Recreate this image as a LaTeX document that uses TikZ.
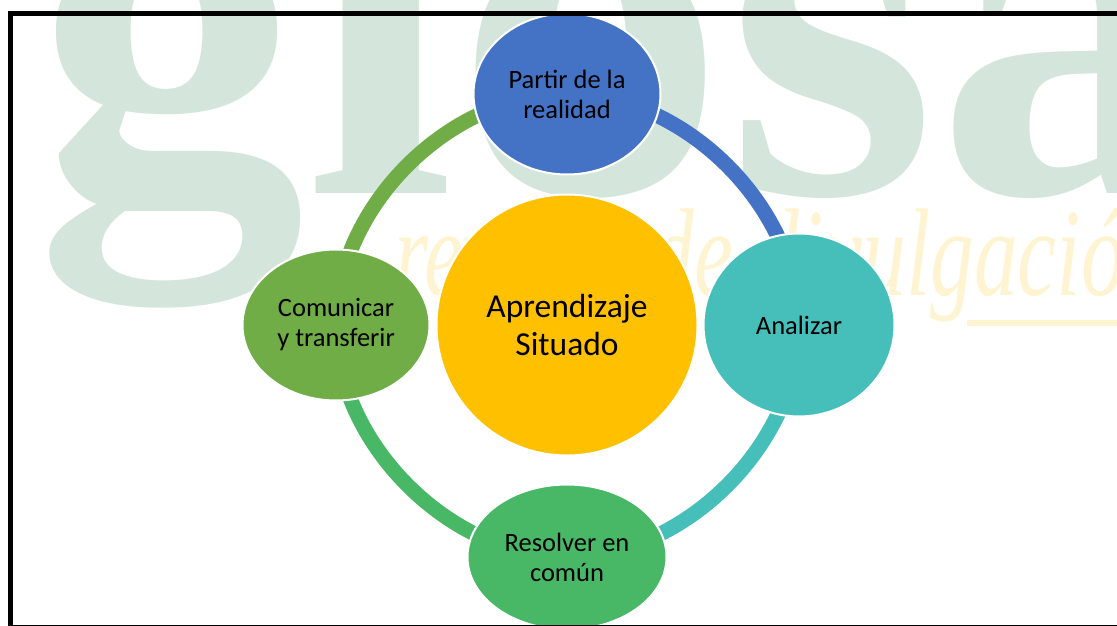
\documentclass[tikz,border=0pt]{standalone}
\usepackage{fontspec}
\setmainfont{Carlito}
\newfontfamily\markfont{Liberation Serif}
\usetikzlibrary{shapes.geometric,positioning,backgrounds}

\definecolor{cBlue}{HTML}{4472C4}
\definecolor{cTeal}{HTML}{46BFBA}
\definecolor{cGreen}{HTML}{48B766}
\definecolor{cOlive}{HTML}{70AD47}
\definecolor{cGold}{HTML}{FFC000}
\definecolor{markGreen}{HTML}{D4E6DC}
\definecolor{markYellow}{HTML}{FFF4D2}

\begin{document}
\begin{tikzpicture}
	[
	  x=1pt, y=-1pt,
	  stage/.style={ellipse, draw=white, line width=2pt, inner sep=0pt, outer sep=0pt,
	    align=center, font=\fontsize{26.5}{30}\selectfont},
	  ring/.style={line width=15pt, bend left=45, looseness=0.92},
	]
	\useasboundingbox (0,0) rectangle (1117,626);
	\node (A) [stage, circle, fill=cGold, minimum size=261pt, font=\fontsize{33.5}{38}\selectfont] at (567,325) {Aprendizaje\\Situado};
	\node (0) [stage, fill=cBlue, minimum width=187pt, minimum height=161pt, above=20pt of A] {Partir de la\\realidad};
	\node (1) [stage, fill=cTeal, minimum width=191pt, minimum height=183pt, right=6pt of A] {Analizar};
	\node (2) [stage, fill=cGreen, minimum width=199pt, minimum height=145pt, below=29pt of A] {Resolver en\\común};
	\node (3) [stage, fill=cOlive, minimum width=187pt, minimum height=151pt, left=7pt of A] {Comunicar\\y transferir};
	\begin{scope}[on background layer]
	  % watermark
	  \node (logo) [text=markGreen, font=\markfont\bfseries\fontsize{520}{520}\selectfont, xscale=1.04, anchor=base west, inner sep=0pt] at (35,193) {glosa};
	  \node (sub) [text=markYellow, font=\markfont\itshape\fontsize{125}{125}\selectfont, xscale=0.70, anchor=base west, inner sep=0pt] at (394,295) {revista de divulgación};
	  \coordinate (rule) at (967,323);
	  \draw [markYellow, line width=6pt] (rule) -- ++(170,0);
	  \draw [cBlue, ring] (0.center) to (1.center);
	  \draw [cTeal, ring] (1.center) to (2.center);
	  \draw [cGreen, ring] (2.center) to (3.center);
	  \draw [cOlive, ring] (3.center) to (0.center);
	\end{scope}
	\draw [line width=5pt] (10,14) rectangle (1140,627);
\end{tikzpicture}
\end{document}
